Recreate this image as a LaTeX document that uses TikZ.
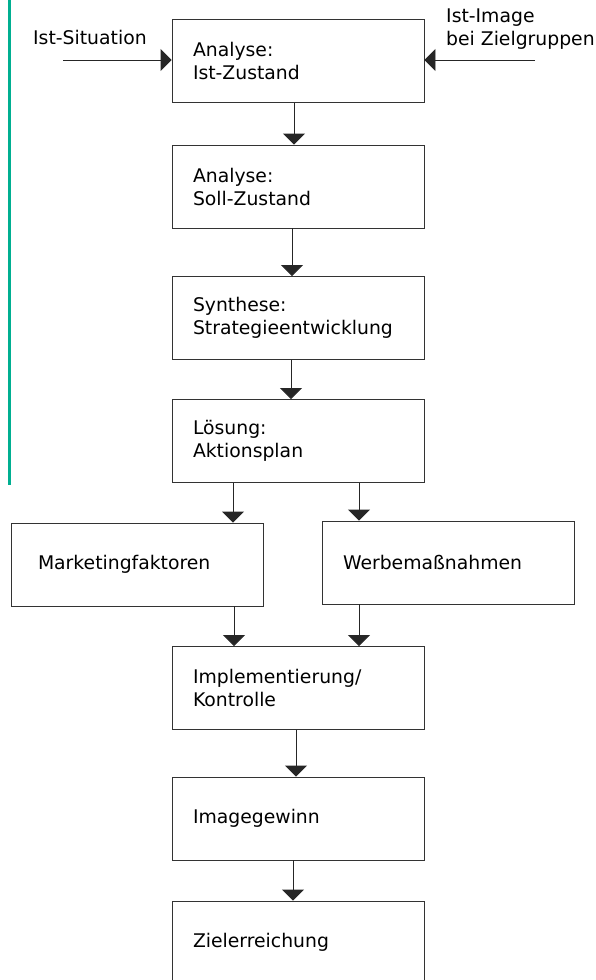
\documentclass[tikz,border=0pt]{standalone}
\usepackage{fontspec}
\setmainfont{DejaVu Sans}
\usetikzlibrary{arrows.meta}
\definecolor{leiste}{RGB}{0,175,145}

\begin{document}
\begin{tikzpicture}[x=1pt, y=-1pt, every node/.style={font=\fontsize{18.8}{23}\selectfont},
    kasten/.style={draw=black!80, line width=0.9pt, minimum height=83pt, text width=210pt, inner xsep=21pt, align=left},
    pfeil/.style={draw=black!85, line width=0.9pt, -{Triangle[length=11pt,width=22pt]}}]
    \useasboundingbox (0,0) rectangle (595,980);
    \draw[leiste, line width=3pt] (9,0) -- (9,485);

    \node[kasten] (ist) at (298,61) {Analyse:\\Ist-Zustand};
    \node[kasten] (soll) at (298,186.5) {Analyse:\\Soll-Zustand};
    \node[kasten] (syn) at (298,318) {Synthese:\\Strategieentwicklung};
    \node[kasten] (plan) at (298,441) {Lösung:\\Aktionsplan};
    \node[kasten, inner xsep=27pt, text width=198pt] (markt) at (137,564.5) {Marketingfaktoren};
    \node[kasten] (werbe) at (448,562.5) {Werbemaßnahmen};
    \node[kasten] (impl) at (298,688) {Implementierung/\\Kontrolle};
    \node[kasten] (gewinn) at (298,818.5) {Imagegewinn};
    \node[kasten] (ziel) at (298,942.5) {Zielerreichung};

    \node[anchor=west, inner sep=0pt] (sit) at (33,37) {Ist-Situation};
    \node[anchor=west, inner sep=0pt, align=left] (img) at (446,29) {Ist-Image\\bei Zielgruppen};
    \coordinate (sitstart) at (63,60);
    \coordinate (imgstart) at (535,60);

    \draw[pfeil] (sitstart) -- (sitstart -| ist.west);
    \draw[pfeil] (imgstart) -- (imgstart -| ist.east);
    \draw[pfeil] ([xshift=-4]ist.south) -- ([xshift=-4]soll.north);
    \draw[pfeil] ([xshift=-6]soll.south) -- ([xshift=-6]syn.north);
    \draw[pfeil] ([xshift=-7]syn.south) -- ([xshift=-7]plan.north);
    \draw[pfeil] ([xshift=-65]plan.south) -- ([xshift=-65]plan.south |- markt.north);
    \draw[pfeil] ([xshift=61]plan.south) -- ([xshift=61]plan.south |- werbe.north);
    \draw[pfeil] ([xshift=-64]impl.north |- markt.south) -- ([xshift=-64]impl.north);
    \draw[pfeil] ([xshift=61]impl.north |- werbe.south) -- ([xshift=61]impl.north);
    \draw[pfeil] ([xshift=-2]impl.south) -- ([xshift=-2]gewinn.north);
    \draw[pfeil] ([xshift=-5]gewinn.south) -- ([xshift=-5]ziel.north);
\end{tikzpicture}
\end{document}
